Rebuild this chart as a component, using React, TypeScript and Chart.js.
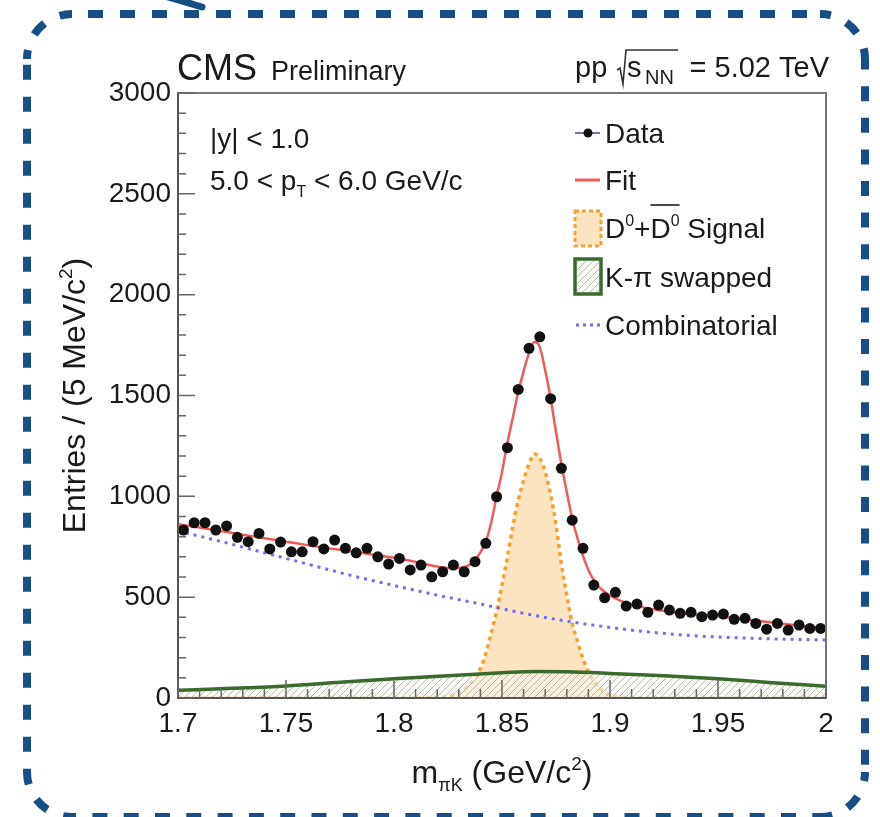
import React, { useEffect, useRef } from 'react';
import { Chart, registerables } from 'chart.js';

Chart.register(...registerables);

// ---------------- data ----------------
const MASS_BINS = [
  1.7025, 1.7075, 1.7125, 1.7175, 1.7225, 1.7275, 1.7325, 1.7375, 1.7425, 1.7475,
  1.7525, 1.7575, 1.7625, 1.7675, 1.7725, 1.7775, 1.7825, 1.7875, 1.7925, 1.7975,
  1.8025, 1.8075, 1.8125, 1.8175, 1.8225, 1.8275, 1.8325, 1.8375, 1.8425, 1.8475,
  1.8525, 1.8575, 1.8625, 1.8675, 1.8725, 1.8775, 1.8825, 1.8875, 1.8925, 1.8975,
  1.9025, 1.9075, 1.9125, 1.9175, 1.9225, 1.9275, 1.9325, 1.9375, 1.9425, 1.9475,
  1.9525, 1.9575, 1.9625, 1.9675, 1.9725, 1.9775, 1.9825, 1.9875, 1.9925, 1.9975,
];
const DATA_COUNTS = [
  833, 869, 869, 833, 853, 797, 775, 816, 739, 773,
  725, 725, 775, 739, 783, 742, 720, 742, 700, 664,
  692, 635, 659, 601, 626, 659, 626, 676, 767, 998,
  1241, 1530, 1734, 1791, 1484, 1139, 882, 742, 560, 497,
  524, 456, 466, 425, 461, 436, 420, 425, 403, 411,
  416, 390, 395, 370, 341, 370, 337, 362, 345, 345,
];

const FIT_MASS = [
  1.7, 1.71, 1.72, 1.73, 1.74, 1.75, 1.76, 1.77, 1.78, 1.79,
  1.8, 1.81, 1.815, 1.82, 1.825, 1.83, 1.835, 1.8375, 1.84, 1.8425,
  1.845, 1.8475, 1.85, 1.8525, 1.855, 1.8575, 1.86, 1.8625, 1.865, 1.8675,
  1.87, 1.8725, 1.875, 1.8775, 1.88, 1.8825, 1.885, 1.8875, 1.89, 1.8925,
  1.895, 1.9, 1.905, 1.91, 1.92, 1.93, 1.94, 1.95, 1.96, 1.97,
  1.98, 1.99, 2.0,
];
const FIT_VALUES = [
  862, 845, 828, 810, 792, 775, 758, 742, 728, 712,
  695, 675, 662, 652, 645, 645, 660, 685, 722, 775,
  870, 1000, 1120, 1265, 1390, 1515, 1620, 1710, 1765, 1740,
  1625, 1486, 1320, 1160, 1020, 890, 790, 705, 635, 585,
  550, 508, 482, 463, 440, 425, 413, 405, 393, 381,
  368, 356, 345,
];

const SIGNAL_MASS = [
  1.7, 1.8, 1.82, 1.825, 1.83, 1.835, 1.8375, 1.84, 1.8425, 1.845,
  1.8475, 1.85, 1.8525, 1.855, 1.8575, 1.86, 1.8625, 1.865, 1.8675, 1.87,
  1.8725, 1.875, 1.8775, 1.88, 1.8825, 1.885, 1.8875, 1.89, 1.8925, 1.895,
  1.9, 1.905, 1.91, 2.0,
];
const SIGNAL_VALUES = [
  0, 0, 2, 8, 25, 68, 100, 145, 220, 320,
  430, 560, 700, 850, 980, 1080, 1160, 1210, 1190, 1120,
  1010, 860, 665, 510, 370, 280, 195, 130, 85, 50,
  15, 3, 0, 0,
];

const SWAPPED_MASS = [1.7, 1.725, 1.75, 1.775, 1.8, 1.825, 1.85, 1.865, 1.88, 1.9, 1.925, 1.95, 1.975, 2.0];
const SWAPPED_VALUES = [38, 48, 60, 78, 95, 110, 125, 132, 130, 122, 110, 95, 76, 58];

const COMB_MASS = [1.7, 1.72, 1.74, 1.76, 1.78, 1.8, 1.82, 1.84, 1.86, 1.88, 1.9, 1.92, 1.94, 1.96, 1.98, 2.0];
const COMB_VALUES = [828, 776, 720, 664, 608, 558, 510, 466, 420, 381, 350, 325, 308, 298, 292, 288];

const X_TICKS = [1.7, 1.75, 1.8, 1.85, 1.9, 1.95, 2.0];
const X_TICK_LABELS = ['1.7', '1.75', '1.8', '1.85', '1.9', '1.95', '2'];
const Y_TICKS = [0, 500, 1000, 1500, 2000, 2500, 3000];
const Y_TICK_LABELS = ['0', '500', '1000', '1500', '2000', '2500', '3000'];

const LEGEND_LABELS = ['Data', 'Fit', 'Signal', 'K-\u03c0 swapped', 'Combinatorial'];

// ---------------- styling ----------------
const FONT = '"Liberation Sans", Arial, Helvetica, sans-serif';
const TEXT = '#1a1a1a';
const RED = '#ef5a5a';
const BLUE = '#6e6ef6';
const ORANGE = '#f2a233';
const ORANGE_FILL = 'rgba(252, 214, 160, 0.65)';
const GREEN = '#3a6a2c';
const NAVY = '#174e83';

function fnt(size: number, italic = false) {
  return `${italic ? 'italic ' : ''}${size}px ${FONT}`;
}

type Part = { t: string; size?: number; dy?: number; italic?: boolean };

function drawRich(ctx: CanvasRenderingContext2D, parts: Part[], x: number, y: number, align: 'left' | 'center' | 'right' = 'left') {
  ctx.textAlign = 'left';
  ctx.textBaseline = 'alphabetic';
  const widths = parts.map((p) => {
    ctx.font = fnt(p.size ?? 28, p.italic);
    return ctx.measureText(p.t).width;
  });
  const total = widths.reduce((a, b) => a + b, 0);
  let cx = align === 'left' ? x : align === 'center' ? x - total / 2 : x - total;
  const starts: number[] = [];
  parts.forEach((p, i) => {
    ctx.font = fnt(p.size ?? 28, p.italic);
    ctx.fillText(p.t, cx, y + (p.dy ?? 0));
    starts.push(cx);
    cx += widths[i];
  });
  return { starts, widths };
}

function makeHatch(): CanvasPattern | string {
  const c = document.createElement('canvas');
  c.width = 7;
  c.height = 7;
  const p = c.getContext('2d');
  if (!p) return 'rgba(200,200,190,0.3)';
  p.fillStyle = 'rgba(245,246,240,0.6)';
  p.fillRect(0, 0, 7, 7);
  p.strokeStyle = 'rgba(160,165,150,0.7)';
  p.lineWidth = 1;
  p.beginPath();
  p.moveTo(-1, 8);
  p.lineTo(8, -1);
  p.moveTo(-1, 1);
  p.lineTo(1, -1);
  p.moveTo(6, 8);
  p.lineTo(8, 6);
  p.stroke();
  const pat = p.createPattern(c, 'repeat');
  return pat ?? 'rgba(200,200,190,0.3)';
}

function dashLine(ctx: CanvasRenderingContext2D, x1: number, y1: number, x2: number, y2: number, anchor: number, period: number, along: number) {
  const dash = 15;
  const off = (((along - anchor) % period) + period) % period;
  ctx.setLineDash([dash, period - dash]);
  ctx.lineDashOffset = off;
  ctx.beginPath();
  ctx.moveTo(x1, y1);
  ctx.lineTo(x2, y2);
  ctx.stroke();
}

function dashArc(ctx: CanvasRenderingContext2D, cx: number, cy: number, r: number, a1: number, a2: number, off: number) {
  ctx.setLineDash([15, 17]);
  ctx.lineDashOffset = off;
  ctx.beginPath();
  ctx.arc(cx, cy, r, a1, a2);
  ctx.stroke();
}

const decorPlugin = {
  id: 'rootDecor',
  afterDraw(chart: any) {
    const ctx: CanvasRenderingContext2D = chart.ctx;
    const area = chart.chartArea;
    const xs = chart.scales.x;
    const ys = chart.scales.y;
    ctx.save();

    // frame
    ctx.setLineDash([]);
    ctx.strokeStyle = '#777';
    ctx.lineWidth = 2;
    ctx.strokeRect(area.left, area.top, area.right - area.left, area.bottom - area.top);
    ctx.strokeStyle = '#555';
    ctx.beginPath();
    ctx.moveTo(area.left, area.top);
    ctx.lineTo(area.left, area.bottom);
    ctx.lineTo(area.right, area.bottom);
    ctx.stroke();

    // inward ticks
    ctx.strokeStyle = '#666';
    ctx.lineWidth = 1.5;
    ctx.beginPath();
    for (let i = 0; i <= 30; i++) {
      const v = 1.7 + i * 0.01;
      const px = xs.getPixelForValue(v);
      const len = i % 5 === 0 ? 18 : 9;
      ctx.moveTo(px, area.bottom);
      ctx.lineTo(px, area.bottom - len);
    }
    for (let i = 0; i <= 30; i++) {
      const v = i * 100;
      const py = ys.getPixelForValue(v);
      const len = i % 5 === 0 ? 17 : 8;
      ctx.moveTo(area.left, py);
      ctx.lineTo(area.left + len, py);
    }
    ctx.stroke();

    ctx.fillStyle = TEXT;
    // header
    drawRich(ctx, [{ t: 'CMS', size: 36 }], 177, 80);
    drawRich(ctx, [{ t: 'Preliminary', size: 27 }], 271, 80);

    // pp sqrt(s_NN) = 5.02 TeV
    drawRich(ctx, [{ t: 'pp', size: 29 }], 575, 77);
    ctx.strokeStyle = '#333';
    ctx.lineWidth = 1.6;
    ctx.beginPath();
    ctx.moveTo(617, 70);
    ctx.lineTo(620, 68);
    ctx.lineTo(623, 84);
    ctx.lineTo(626, 50);
    ctx.lineTo(678, 50);
    ctx.stroke();
    drawRich(ctx, [{ t: 's', size: 29 }], 627, 77);
    drawRich(ctx, [{ t: 'NN', size: 20 }], 645, 84);
    drawRich(ctx, [{ t: '= 5.02 TeV', size: 29 }], 829, 77, 'right');

    // selection text
    drawRich(ctx, [{ t: '|y| < 1.0', size: 28 }], 210, 148);
    drawRich(ctx, [
      { t: '5.0 < p', size: 28 },
      { t: 'T', size: 16, dy: 7 },
      { t: ' < 6.0 GeV/c', size: 28 },
    ], 210, 190);

    // legend
    const lx = 605;
    // Data
    ctx.setLineDash([]);
    ctx.strokeStyle = '#4a4a8a';
    ctx.lineWidth = 1.5;
    ctx.beginPath();
    ctx.moveTo(575, 133);
    ctx.lineTo(600, 133);
    ctx.stroke();
    ctx.fillStyle = '#111';
    ctx.beginPath();
    ctx.arc(588, 133, 4.5, 0, Math.PI * 2);
    ctx.fill();
    ctx.fillStyle = TEXT;
    drawRich(ctx, [{ t: LEGEND_LABELS[0] }], lx, 143);
    // Fit
    ctx.strokeStyle = RED;
    ctx.lineWidth = 3;
    ctx.beginPath();
    ctx.moveTo(575, 180);
    ctx.lineTo(600, 180);
    ctx.stroke();
    drawRich(ctx, [{ t: LEGEND_LABELS[1] }], lx, 190);
    // Signal
    ctx.fillStyle = ORANGE_FILL;
    ctx.fillRect(575, 211, 26, 35);
    ctx.strokeStyle = ORANGE;
    ctx.lineWidth = 3;
    ctx.setLineDash([4, 3]);
    ctx.strokeRect(575, 211, 26, 35);
    ctx.setLineDash([]);
    ctx.fillStyle = TEXT;
    const sig = drawRich(ctx, [
      { t: 'D' },
      { t: '0', size: 16, dy: -12 },
      { t: '+' },
      { t: 'D' },
      { t: '0', size: 16, dy: -12 },
      { t: ' ' + LEGEND_LABELS[2] },
    ], lx, 238);
    ctx.strokeStyle = TEXT;
    ctx.lineWidth = 1.6;
    ctx.beginPath();
    ctx.moveTo(sig.starts[3], 205);
    ctx.lineTo(sig.starts[4] + sig.widths[4], 205);
    ctx.stroke();
    // K-pi swapped
    ctx.fillStyle = chart.$hatch || 'rgba(220,220,210,0.5)';
    ctx.fillRect(575, 259, 26, 35);
    ctx.strokeStyle = GREEN;
    ctx.lineWidth = 3.5;
    ctx.strokeRect(575, 259, 26, 35);
    ctx.fillStyle = TEXT;
    drawRich(ctx, [{ t: LEGEND_LABELS[3] }], lx, 287);
    // Combinatorial
    ctx.strokeStyle = BLUE;
    ctx.lineWidth = 3;
    ctx.setLineDash([3, 4]);
    ctx.beginPath();
    ctx.moveTo(576, 325);
    ctx.lineTo(600, 325);
    ctx.stroke();
    ctx.setLineDash([]);
    drawRich(ctx, [{ t: LEGEND_LABELS[4] }], lx, 335);

    // axis titles
    ctx.fillStyle = TEXT;
    drawRich(ctx, [
      { t: 'm', size: 32 },
      { t: '\u03c0K', size: 18, dy: 8 },
      { t: ' (GeV/c', size: 32 },
      { t: '2', size: 19, dy: -13 },
      { t: ')', size: 32 },
    ], (area.left + area.right) / 2, 783, 'center');

    ctx.save();
    ctx.translate(85, (area.top + area.bottom) / 2);
    ctx.rotate(-Math.PI / 2);
    drawRich(ctx, [
      { t: 'Entries / (5 MeV/c', size: 32 },
      { t: '2', size: 19, dy: -13 },
      { t: ')', size: 32 },
    ], 0, 0, 'center');
    ctx.restore();

    // dashed rounded border
    const L = 27, R = 865, T = 14, B = 817, rad = 45;
    ctx.strokeStyle = NAVY;
    ctx.lineWidth = 8;
    ctx.lineCap = 'butt';
    dashLine(ctx, L + rad, T, R - rad, T, 24, 32, L + rad);
    dashLine(ctx, R, T + rad, R, B - rad, 23, 31.6, T + rad);
    dashLine(ctx, L + rad, B, R - rad, B, 155, 31.3, L + rad);
    dashLine(ctx, L, T + rad, L, B - rad, 0.7, 32, T + rad);
    dashArc(ctx, L + rad, T + rad, rad, Math.PI, Math.PI * 1.5, 6);
    dashArc(ctx, R - rad, T + rad, rad, Math.PI * 1.5, Math.PI * 2, 4);
    dashArc(ctx, R - rad, B - rad, rad, 0, Math.PI * 0.5, 6);
    dashArc(ctx, L + rad, B - rad, rad, Math.PI * 0.5, Math.PI, 6);
    // arrow tail at the top
    ctx.setLineDash([]);
    ctx.lineCap = 'round';
    ctx.lineWidth = 7;
    ctx.beginPath();
    ctx.moveTo(168, -3);
    ctx.lineTo(202, 7);
    ctx.stroke();

    ctx.restore();
  },
};

function pts(xsArr: number[], ysArr: number[]) {
  return xsArr.map((x, i) => ({ x, y: ysArr[i] }));
}

export default function App() {
  const ref = useRef<HTMLCanvasElement | null>(null);

  useEffect(() => {
    document.body.style.margin = '0';
    const canvas = ref.current;
    if (!canvas) return;
    const hatch = makeHatch();

    const chart = new Chart(canvas, {
      type: 'line',
      data: {
        datasets: [
          {
            label: 'Data',
            data: pts(MASS_BINS, DATA_COUNTS),
            showLine: false,
            pointRadius: 5.5,
            pointBackgroundColor: '#111',
            pointBorderWidth: 0,
            borderColor: '#111',
            order: 0,
          },
          {
            label: 'Fit',
            data: pts(FIT_MASS, FIT_VALUES),
            borderColor: RED,
            borderWidth: 2.5,
            pointRadius: 0,
            cubicInterpolationMode: 'monotone',
            fill: false,
            order: 1,
          },
          {
            label: 'Combinatorial',
            data: pts(COMB_MASS, COMB_VALUES),
            borderColor: BLUE,
            borderWidth: 3,
            borderDash: [3, 5],
            pointRadius: 0,
            cubicInterpolationMode: 'monotone',
            fill: false,
            order: 2,
          },
          {
            label: 'K-pi swapped',
            data: pts(SWAPPED_MASS, SWAPPED_VALUES),
            borderColor: GREEN,
            borderWidth: 3.5,
            pointRadius: 0,
            cubicInterpolationMode: 'monotone',
            fill: 'origin',
            backgroundColor: hatch as any,
            order: 3,
          },
          {
            label: 'Signal',
            data: pts(SIGNAL_MASS, SIGNAL_VALUES),
            borderColor: ORANGE,
            borderWidth: 3.5,
            borderDash: [4, 4],
            pointRadius: 0,
            cubicInterpolationMode: 'monotone',
            fill: 'origin',
            backgroundColor: ORANGE_FILL,
            order: 4,
          },
        ],
      },
      options: {
        responsive: false,
        animation: false,
        devicePixelRatio: 1,
        events: [],
        layout: { padding: { left: 0, right: 54, top: 93, bottom: 0 } },
        plugins: { legend: { display: false }, tooltip: { enabled: false } },
        scales: {
          x: {
            type: 'linear',
            min: 1.7,
            max: 2.0,
            afterBuildTicks: (s: any) => {
              s.ticks = X_TICKS.map((v) => ({ value: v }));
            },
            afterFit: (s: any) => {
              s.height = 119;
            },
            grid: { display: false, drawTicks: false },
            border: { display: false },
            ticks: {
              autoSkip: false,
              maxRotation: 0,
              padding: 9,
              color: TEXT,
              font: { family: FONT, size: 28 },
              callback: (_v: any, i: number) => X_TICK_LABELS[i],
            },
          },
          y: {
            type: 'linear',
            min: 0,
            max: 3000,
            afterBuildTicks: (s: any) => {
              s.ticks = Y_TICKS.map((v) => ({ value: v }));
            },
            afterFit: (s: any) => {
              s.width = 178;
            },
            grid: { display: false, drawTicks: false },
            border: { display: false },
            ticks: {
              autoSkip: false,
              padding: 7,
              color: TEXT,
              font: { family: FONT, size: 28 },
              callback: (_v: any, i: number) => Y_TICK_LABELS[i],
            },
          },
        },
      } as any,
      plugins: [decorPlugin as any],
    });
    (chart as any).$hatch = hatch;
    chart.draw();

    return () => {
      chart.destroy();
    };
  }, []);

  return (
    <div style={{ position: 'absolute', left: 0, top: 0, width: 880, height: 817 }}>
      <canvas ref={ref} width={880} height={817} style={{ display: 'block', width: 880, height: 817 }} />
    </div>
  );
}
